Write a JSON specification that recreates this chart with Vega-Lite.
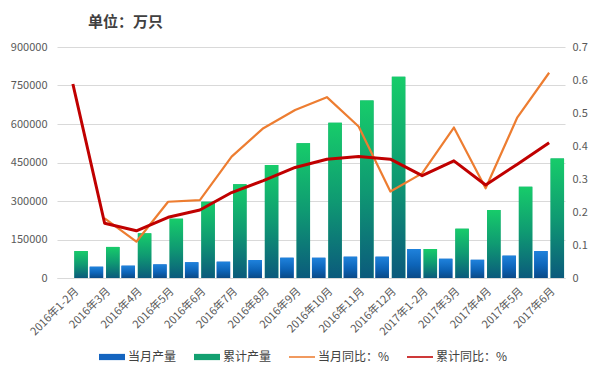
{
  "$schema": "https://vega.github.io/schema/vega-lite/v6.json",
  "autosize": {"type": "none"},
  "width": 508,
  "height": 231,
  "padding": {"left": 57, "top": 47, "right": 35, "bottom": 104},
  "background": "white",
  "config": {
    "font": "Noto Sans CJK SC",
    "view": {"stroke": null},
    "axis": {"labelColor": "#595959", "labelFont": "Noto Sans CJK SC", "labelFontSize": 11, "ticks": false, "title": null}
  },
  "title": {"text": "单位：万只", "anchor": "start", "frame": "group", "dx": 31, "offset": 11, "fontSize": 15, "fontWeight": "bold", "color": "#404040", "font": "Noto Sans CJK SC"},
  "datasets": {
    "bars": [
      {"m": "2016年1-2月", "s": "累计产量", "v": 105000},
      {"m": "2016年3月", "s": "当月产量", "v": 44000},
      {"m": "2016年3月", "s": "累计产量", "v": 121000},
      {"m": "2016年4月", "s": "当月产量", "v": 48000},
      {"m": "2016年4月", "s": "累计产量", "v": 174000},
      {"m": "2016年5月", "s": "当月产量", "v": 53000},
      {"m": "2016年5月", "s": "累计产量", "v": 231000},
      {"m": "2016年6月", "s": "当月产量", "v": 61000},
      {"m": "2016年6月", "s": "累计产量", "v": 297000},
      {"m": "2016年7月", "s": "当月产量", "v": 63500},
      {"m": "2016年7月", "s": "累计产量", "v": 365000},
      {"m": "2016年8月", "s": "当月产量", "v": 70000},
      {"m": "2016年8月", "s": "累计产量", "v": 440000},
      {"m": "2016年9月", "s": "当月产量", "v": 79000},
      {"m": "2016年9月", "s": "累计产量", "v": 525000},
      {"m": "2016年10月", "s": "当月产量", "v": 79000},
      {"m": "2016年10月", "s": "累计产量", "v": 605000},
      {"m": "2016年11月", "s": "当月产量", "v": 83000},
      {"m": "2016年11月", "s": "累计产量", "v": 692000},
      {"m": "2016年12月", "s": "当月产量", "v": 83000},
      {"m": "2016年12月", "s": "累计产量", "v": 784000},
      {"m": "2017年1-2月", "s": "当月产量", "v": 113000},
      {"m": "2017年1-2月", "s": "累计产量", "v": 113000},
      {"m": "2017年3月", "s": "当月产量", "v": 75000},
      {"m": "2017年3月", "s": "累计产量", "v": 192000},
      {"m": "2017年4月", "s": "当月产量", "v": 71000},
      {"m": "2017年4月", "s": "累计产量", "v": 265000},
      {"m": "2017年5月", "s": "当月产量", "v": 87000},
      {"m": "2017年5月", "s": "累计产量", "v": 356000},
      {"m": "2017年6月", "s": "当月产量", "v": 105000},
      {"m": "2017年6月", "s": "累计产量", "v": 466000}
    ],
    "lines": [
      {"m": "2016年3月", "s": "当月同比：%", "p": 0.181},
      {"m": "2016年4月", "s": "当月同比：%", "p": 0.11},
      {"m": "2016年5月", "s": "当月同比：%", "p": 0.231},
      {"m": "2016年6月", "s": "当月同比：%", "p": 0.236},
      {"m": "2016年7月", "s": "当月同比：%", "p": 0.368},
      {"m": "2016年8月", "s": "当月同比：%", "p": 0.454},
      {"m": "2016年9月", "s": "当月同比：%", "p": 0.509},
      {"m": "2016年10月", "s": "当月同比：%", "p": 0.548},
      {"m": "2016年11月", "s": "当月同比：%", "p": 0.459},
      {"m": "2016年12月", "s": "当月同比：%", "p": 0.262},
      {"m": "2017年1-2月", "s": "当月同比：%", "p": 0.317},
      {"m": "2017年3月", "s": "当月同比：%", "p": 0.456},
      {"m": "2017年4月", "s": "当月同比：%", "p": 0.272},
      {"m": "2017年5月", "s": "当月同比：%", "p": 0.487},
      {"m": "2017年6月", "s": "当月同比：%", "p": 0.622},
      {"m": "2016年1-2月", "s": "累计同比：%", "p": 0.588},
      {"m": "2016年3月", "s": "累计同比：%", "p": 0.166},
      {"m": "2016年4月", "s": "累计同比：%", "p": 0.143},
      {"m": "2016年5月", "s": "累计同比：%", "p": 0.184},
      {"m": "2016年6月", "s": "累计同比：%", "p": 0.206},
      {"m": "2016年7月", "s": "累计同比：%", "p": 0.259},
      {"m": "2016年8月", "s": "累计同比：%", "p": 0.295},
      {"m": "2016年9月", "s": "累计同比：%", "p": 0.335},
      {"m": "2016年10月", "s": "累计同比：%", "p": 0.36},
      {"m": "2016年11月", "s": "累计同比：%", "p": 0.368},
      {"m": "2016年12月", "s": "累计同比：%", "p": 0.36},
      {"m": "2017年1-2月", "s": "累计同比：%", "p": 0.31},
      {"m": "2017年3月", "s": "累计同比：%", "p": 0.355},
      {"m": "2017年4月", "s": "累计同比：%", "p": 0.282},
      {"m": "2017年5月", "s": "累计同比：%", "p": 0.345},
      {"m": "2017年6月", "s": "累计同比：%", "p": 0.41}
    ]
  },
  "encoding": {
    "x": {
      "field": "m", "type": "nominal", "sort": null,
      "scale": {"domain": ["2016年1-2月","2016年3月","2016年4月","2016年5月","2016年6月","2016年7月","2016年8月","2016年9月","2016年10月","2016年11月","2016年12月","2017年1-2月","2017年3月","2017年4月","2017年5月","2017年6月"], "paddingInner": 0.06, "paddingOuter": 0.03},
      "axis": {"labelAngle": -45, "labelAlign": "right", "labelBaseline": "top", "labelPadding": 7, "domainColor": "#d9d9d9", "grid": false, "labelFontSize": 11}
    }
  },
  "layer": [
    {
      "data": {"name": "bars"},
      "encoding": {
        "y": {"field": "v", "type": "quantitative", "scale": {"domain": [0, 900000]},
          "axis": {"orient": "left", "values": [0,150000,300000,450000,600000,750000,900000], "format": "d", "domain": false, "gridColor": "#d9d9d9", "labelPadding": 10}},
        "xOffset": {"field": "s", "type": "nominal", "scale": {"domain": ["当月产量", "累计产量"], "paddingInner": 0.18}}
      },
      "layer": [
        {
          "mark": {"type": "bar"},
          "encoding": {
            "color": {"field": "s", "type": "nominal",
              "scale": {"domain": ["当月产量", "累计产量", "当月同比：%", "累计同比：%"], "range": ["#1565c0", "#13a070", "#ed7d31", "#c00000"]},
              "legend": {
                "orient": "none", "legendX": 42, "legendY": 297, "direction": "horizontal", "title": null,
                "labelFontSize": 12, "labelColor": "#404040", "labelFont": "Noto Sans CJK SC",
                "symbolSize": 676, "symbolStrokeWidth": 0, "columnPadding": 17, "labelOffset": 3,
                "encode": {"symbols": {"update": {"shape": {"signal": "indexof(['当月产量','累计产量'], datum.value) >= 0 ? 'M-1,-0.24H1V0.24H-1Z' : 'M-1,-0.06H1V0.06H-1Z'"}, "strokeWidth": {"value": 0}}}}
              }
            }
          }
        },
        {
          "transform": [{"filter": "datum.s === '当月产量'"}],
          "mark": {"type": "bar", "color": {"gradient": "linear", "x1": 0, "y1": 0, "x2": 0, "y2": 1, "stops": [{"offset": 0, "color": "#1f82dc"}, {"offset": 0.55, "color": "#0d64b8"}, {"offset": 1, "color": "#0a4a87"}]}}
        },
        {
          "transform": [{"filter": "datum.s === '累计产量'"}],
          "mark": {"type": "bar", "color": {"gradient": "linear", "x1": 0, "y1": 0, "x2": 0, "y2": 1, "stops": [{"offset": 0, "color": "#17cc6a"}, {"offset": 0.5, "color": "#0f9a72"}, {"offset": 1, "color": "#0b5a7c"}]}}
        }
      ]
    },
    {
      "data": {"name": "lines"},
      "mark": {"type": "line", "strokeJoin": "round"},
      "encoding": {
        "y": {"field": "p", "type": "quantitative", "scale": {"domain": [0, 0.7]},
          "axis": {"orient": "right", "values": [0,0.1,0.2,0.3,0.4,0.5,0.6,0.7], "format": "~g", "domain": false, "grid": false, "labelPadding": 7}},
        "color": {"field": "s", "type": "nominal"},
        "strokeWidth": {"field": "s", "type": "nominal", "scale": {"domain": ["当月同比：%", "累计同比：%"], "range": [2.2, 3]}, "legend": null}
      }
    }
  ],
  "resolve": {"scale": {"y": "independent"}}
}
